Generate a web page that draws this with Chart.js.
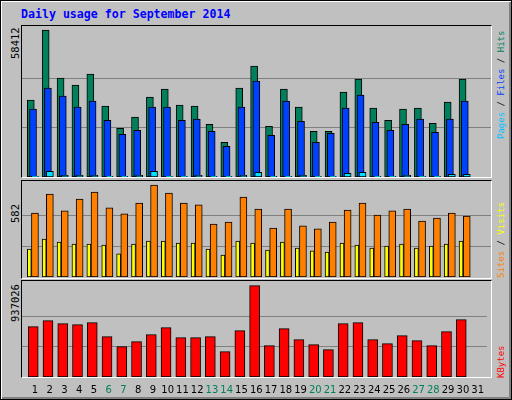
<!DOCTYPE html>
<html><head><meta charset="utf-8">
<script src="https://cdn.jsdelivr.net/npm/chart.js@4"></script>
<style>
body{margin:0;background:#fff;}
#wrap{position:absolute;left:0;top:0;width:510px;height:398px;border:1px solid #000;background:#c0c0c0;box-shadow:inset 1px 1px 0 #fff,inset -2px -2px 0 #808080;overflow:hidden;}
.panel{position:absolute;left:20px;width:469px;border-top:1px solid #000;border-left:1px solid #000;border-right:1px solid #fff;border-bottom:1px solid #fff;}
canvas{position:absolute;left:0;top:0;}
.rot{position:absolute;transform-origin:0 0;transform:rotate(-90deg);white-space:nowrap;font-family:"DejaVu Sans Mono",monospace;line-height:9px;}
#title{position:absolute;left:20px;top:6px;font:bold 11.6px "DejaVu Sans Mono",monospace;color:#0000ff;}
</style></head><body>
<div id="wrap">
<div id="title">Daily usage for September 2014</div>
<div class="panel" style="top:24px;height:151px;"></div>
<div class="panel" style="top:179px;height:97px;"></div>
<div class="panel" style="top:279px;height:96px;"></div>
<div style="position:absolute;left:21px;top:25px;width:469px;height:151px"><canvas id="c1"></canvas></div>
<div style="position:absolute;left:21px;top:180px;width:469px;height:96px"><canvas id="c2"></canvas></div>
<div style="position:absolute;left:21px;top:280px;width:469px;height:116px"><canvas id="c3"></canvas></div>
<div class="rot" style="left:9px;top:58px;font-size:10.5px;line-height:11px;color:#000">58412</div>
<div class="rot" style="left:9px;top:222px;font-size:10.5px;line-height:11px;color:#000">582</div>
<div class="rot" style="left:9px;top:321px;font-size:10.5px;line-height:11px;color:#000">937026</div>
<div class="rot" style="left:496px;top:138px;font-size:9px;"><span style="color:#00c0ff">Pages</span> / <span style="color:#0040ff">Files</span> / <span style="color:#00805c">Hits</span></div>
<div class="rot" style="left:496px;top:277px;font-size:9px;"><span style="color:#ff8000">Sites</span> / <span style="color:#ffff00">Visits</span></div>
<div class="rot" style="left:496px;top:377px;font-size:9px;"><span style="color:#ff0000">KBytes</span></div>
</div>
<script>
const days=[1,2,3,4,5,6,7,8,9,10,11,12,13,14,15,16,17,18,19,20,21,22,23,24,25,26,27,28,29,30];
const weekendDays=[6,7,13,14,20,21,27,28];
const hits=[30533,58412,39294,36506,40887,28143,19382,23762,31727,34913,28541,28143,20975,13806,35312,44073,20178,34913,27745,18187,18187,33719,38896,27347,22568,26948,27347,21373,29736,38896];
const files=[26948,35312,32126,27745,30134,22568,16992,18585,27745,27745,22568,22966,18187,12213,27745,38099,16594,30134,22169,13806,17390,27347,32524,21771,18585,20975,22966,17789,22966,30134];
const pages=[265,2257,664,664,664,265,265,664,2257,265,265,664,265,265,664,1858,265,265,664,265,265,1460,1858,265,265,664,265,265,1062,1062];
const sites=[405,525,418,493,538,437,399,468,582,531,468,456,335,348,506,430,310,430,323,304,348,424,468,392,418,430,354,373,405,386];
const visits=[177,240,221,209,209,202,146,209,228,228,215,215,177,139,228,215,171,221,183,165,158,215,202,183,196,209,183,196,209,228];
const kbytes=[516000,578000,547000,537000,557000,414000,311000,362000,434000,506000,404000,404000,414000,260000,475000,937026,321000,496000,383000,332000,280000,547000,557000,383000,342000,424000,373000,321000,465000,588000];
const maxHits=58412,maxSites=582,maxK=937026;

const pts=(arr,off)=>arr.map((v,i)=>({x:days[i]+off,y:v}));
function ds(arr,off,color,w,order){return{data:pts(arr,off),backgroundColor:color,borderColor:'#000',borderWidth:1,borderSkipped:false,barThickness:w,grouped:false,order:order};}
function opts(top,showX){
  return {responsive:false,animation:false,events:[],
    layout:{padding:0},
    plugins:{legend:{display:false},tooltip:{enabled:false}},
    scales:{
      x:{type:'linear',offset:false,min:0.13,max:31.63,display:showX,
        grid:{display:false,drawTicks:false,offset:false},border:{display:false},
        afterBuildTicks:s=>{s.ticks=[];for(let d=1;d<=31;d++)s.ticks.push({value:d});},
        afterFit:s=>{s.height=showX?20:0;},
        ticks:{autoSkip:false,maxRotation:0,padding:7,font:{family:'DejaVu Sans',size:10},
          color:c=>weekendDays.includes(c.tick.value)?'#00805c':'#000',callback:v=>String(v)}},
      y:{min:0,max:top.max,display:true,
        afterBuildTicks:s=>{s.ticks=[{value:top.ref/3},{value:top.ref*2/3}];},
        afterFit:s=>{s.width=0;},
        ticks:{display:false},border:{display:false},
        grid:{color:'#808080',lineWidth:1,drawTicks:false}}
    }};
}
function mk(id,w,h,datasets,top,showX){
  const c=document.getElementById(id);c.width=w;c.height=h;
  return new Chart(c,{type:'bar',data:{datasets},options:opts(top,showX)});
}
mk('c1',469,151,[ds(hits,-0.28,'#00805c',7,3),ds(files,-0.13,'#0040ff',7,2),ds(pages,0,'#00e0ff',7,1)],{max:maxHits*151/147,ref:maxHits},false);
mk('c2',469,96,[ds(visits,-0.38,'#ffff00',4,2),ds(sites,0,'#ff8000',7,1)],{max:maxSites*96/92,ref:maxSites},false);
mk('c3',469,116,[ds(kbytes,-0.11,'#ff0000',10,1)],{max:maxK*96/91.4,ref:maxK},true);
</script>
</body></html>
